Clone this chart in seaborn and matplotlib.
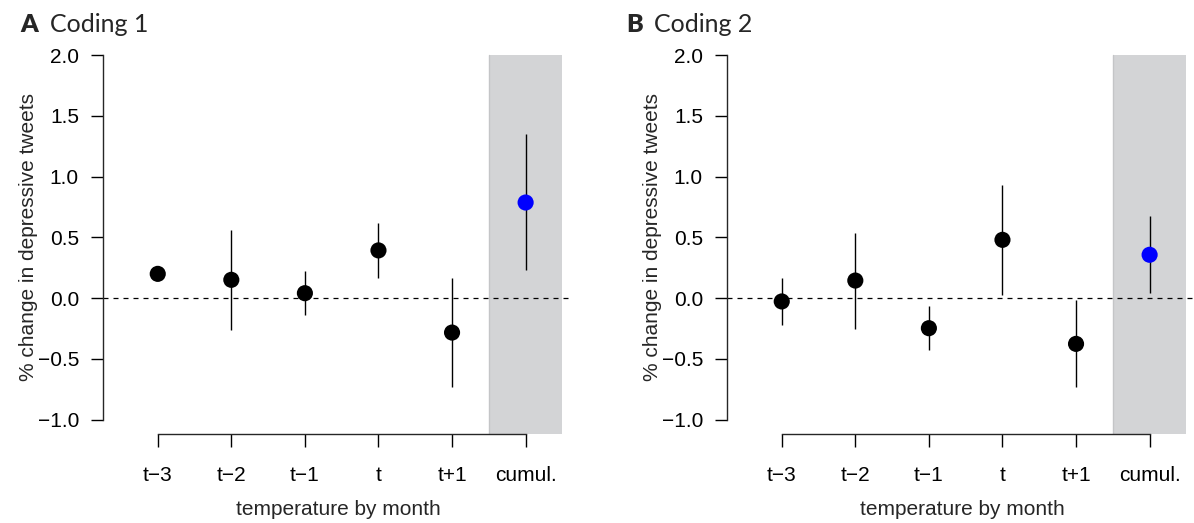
import numpy as np
import pandas as pd
import matplotlib
matplotlib.use("Agg")
import matplotlib.pyplot as plt
import seaborn as sns

# ---- data ----
categories = ["t\u22123", "t\u22122", "t\u22121", "t", "t+1", "cumul."]
est_A = [0.20, 0.151, 0.041, 0.393, -0.283, 0.787]
lo_A = [0.175, -0.261, -0.140, 0.167, -0.733, 0.230]
hi_A = [0.225, 0.557, 0.222, 0.620, 0.167, 1.352]
est_B = [-0.027, 0.145, -0.247, 0.480, -0.376, 0.357]
lo_B = [-0.217, -0.253, -0.425, 0.030, -0.733, 0.041]
hi_B = [0.165, 0.538, -0.066, 0.933, -0.019, 0.675]
yticks = [-1.0, -0.5, 0.0, 0.5, 1.0, 1.5, 2.0]
panel_letters = ["A", "B"]
panel_titles = ["Coding 1", "Coding 2"]

sns.set_style("ticks")
plt.rcParams["font.family"] = ["Liberation Sans", "DejaVu Sans"]
plt.rcParams["axes.unicode_minus"] = True

W, H = 1194, 523
fig = plt.figure(figsize=(W / 100, H / 100), dpi=100)

XLIM = (0.26, 6.64)
YLIM = (-1.12, 2.12)
ax_left_px = [103.3, 727.3]
ax_w_px = 469.4
ax_bottom_px = 523 - 434.3
ax_h_px = 434.3 - 40.5

title_x = [(20.7, 50.0), (626.7, 654.0)]
FS = 15

for i, (est, lo, hi) in enumerate([(est_A, lo_A, hi_A), (est_B, lo_B, hi_B)]):
    ax = fig.add_axes([ax_left_px[i] / W, ax_bottom_px / H, ax_w_px / W, ax_h_px / H])
    pos = np.arange(1, len(categories) + 1)
    df = pd.DataFrame({"pos": pos, "est": est, "lo": lo, "hi": hi,
                       "cumul": [c == "cumul." for c in categories]})
    ax.set_xlim(*XLIM)
    ax.set_ylim(*YLIM)
    band_top = (2.0 - YLIM[0]) / (YLIM[1] - YLIM[0])
    # grey band for cumulative effect
    ax.axvspan(pos[-1] - 0.5, pos[-1] + 0.5, ymin=0, ymax=band_top,
               facecolor="#d3d4d6", edgecolor="none", zorder=0)
    ax.axvline(pos[-1] - 0.5, ymin=0, ymax=band_top,
               color="#c4c5c7", lw=1.0, zorder=0.5)
    ax.axhline(0, color="black", lw=0.9, ls=(0, (4, 4)), zorder=1)
    ax.vlines(df["pos"], df["lo"], df["hi"], color="black", lw=1.0, zorder=2)
    sns.scatterplot(data=df, x="pos", y="est", hue="cumul",
                    palette={False: "black", True: "#0000ff"},
                    s=135, linewidth=0, legend=False, ax=ax, zorder=3)
    sns.despine(ax=ax)
    ax.spines["left"].set_bounds(yticks[0], yticks[-1])
    ax.spines["bottom"].set_bounds(pos[0], pos[-1])
    for s in ["left", "bottom"]:
        ax.spines[s].set_linewidth(1.0)
    ax.set_xticks(pos)
    ax.set_xticklabels(categories)
    ax.set_yticks(yticks)
    ax.set_yticklabels([f"{v:.1f}".replace("-", "\u2212") for v in yticks])
    ax.tick_params(axis="both", direction="out", length=9, width=1.0,
                   labelsize=FS, colors="black")
    ax.tick_params(axis="x", pad=13.5)
    ax.tick_params(axis="y", pad=8.5)
    ax.set_xlabel("temperature by month", fontsize=FS, labelpad=11)
    ax.set_ylabel("% change in depressive tweets", fontsize=FS, labelpad=0)

    tx1, tx2 = title_x[i]
    fig.text(tx1 / W, 1 - 31.7 / H, panel_letters[i], fontsize=18,
             fontweight="heavy", family=["Lato", "DejaVu Sans"], va="baseline")
    fig.text(tx2 / W, 1 - 31.7 / H, panel_titles[i], fontsize=18,
             family=["Lato", "DejaVu Sans"], va="baseline")

fig.savefig("out.png", dpi=100)
